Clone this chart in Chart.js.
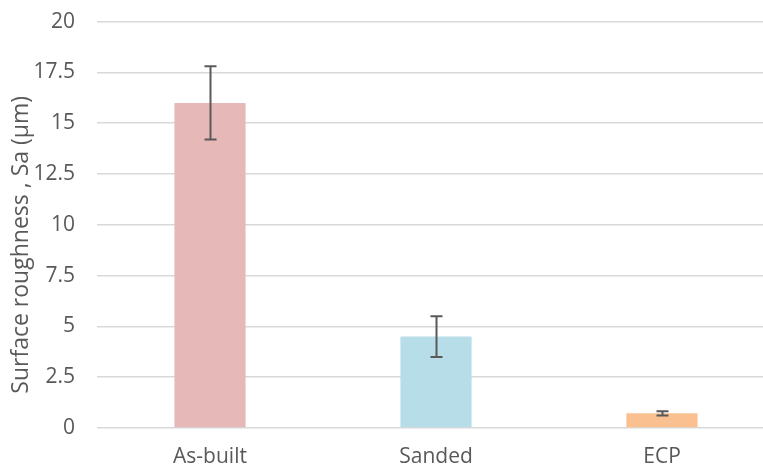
<!DOCTYPE html>
<html>
<head>
<meta charset="utf-8">
<script src="https://cdn.jsdelivr.net/npm/chart.js@4.4.1/dist/chart.umd.min.js"></script>
<style>
  html, body { margin: 0; padding: 0; background: #fff; overflow: hidden; }
  #wrap { width: 775px; height: 483px; margin-top: -13px; }
</style>
</head>
<body>
<div id="wrap"><canvas id="roughness-chart"></canvas></div>
<script>
var categories = ['As-built', 'Sanded', 'ECP'];
var sa = [16.0, 4.5, 0.72];
var saError = [1.8, 1.0, 0.1];
var barColors = ['#E6B8B7', '#B7DEE8', '#FAC090'];
var yTicks = [0, 2.5, 5, 7.5, 10, 12.5, 15, 17.5, 20];
var yTitle = 'Surface roughness , Sa (μm)';

// error bars drawn on top of each bar using the chart scales
var errorBars = {
  id: 'errorBars',
  afterDatasetsDraw: function(chart) {
    var ctx = chart.ctx;
    var y = chart.scales.y;
    var meta = chart.getDatasetMeta(0);
    ctx.save();
    ctx.strokeStyle = '#595959';
    ctx.lineWidth = 2;
    meta.data.forEach(function(bar, i) {
      var top = y.getPixelForValue(sa[i] + saError[i]);
      var bottom = y.getPixelForValue(sa[i] - saError[i]);
      var x = Math.round(bar.x) + 0.5;
      ctx.beginPath();
      ctx.moveTo(x, top);
      ctx.lineTo(x, bottom);
      ctx.moveTo(x - 6, top);
      ctx.lineTo(x + 6, top);
      ctx.moveTo(x - 6, bottom);
      ctx.lineTo(x + 6, bottom);
      ctx.stroke();
    });
    ctx.restore();
  }
};

// rotated y axis title, sitting a little below the middle of the plot
var axisTitle = {
  id: 'axisTitle',
  afterDraw: function(chart) {
    var ctx = chart.ctx;
    var area = chart.chartArea;
    ctx.save();
    ctx.translate(21, (area.top + area.bottom) / 2 + 20);
    ctx.rotate(-Math.PI / 2);
    ctx.fillStyle = '#595959';
    ctx.font = '23px "Open Sans"';
    ctx.textAlign = 'center';
    ctx.textBaseline = 'middle';
    ctx.fillText(yTitle, 0, 0);
    ctx.restore();
  }
};

new Chart(document.getElementById('roughness-chart'), {
  type: 'bar',
  data: {
    labels: categories,
    datasets: [{
      data: sa,
      backgroundColor: barColors,
      barPercentage: 0.63,
      categoryPercentage: 0.5
    }]
  },
  options: {
    responsive: true,
    maintainAspectRatio: false,
    animation: false,
    plugins: {
      legend: { display: false },
      tooltip: { enabled: false }
    },
    scales: {
      x: {
        grid: { display: false },
        border: { display: false },
        afterFit: function(axis) { axis.height = 42; },
        ticks: {
          color: '#595959',
          font: { family: 'Open Sans', size: 21 },
          padding: 8
        }
      },
      y: {
        min: 0,
        max: 20,
        afterBuildTicks: function(axis) {
          axis.ticks = yTicks.map(function(v) { return { value: v }; });
        },
        afterFit: function(axis) { axis.width = 97; },
        grid: { color: '#D9D9D9', lineWidth: 1.5, drawTicks: false },
        border: { display: false },
        ticks: {
          color: '#595959',
          font: { family: 'Open Sans', size: 21 },
          padding: 22
        }
      }
    }
  },
  plugins: [errorBars, axisTitle]
});
</script>
</body>
</html>
